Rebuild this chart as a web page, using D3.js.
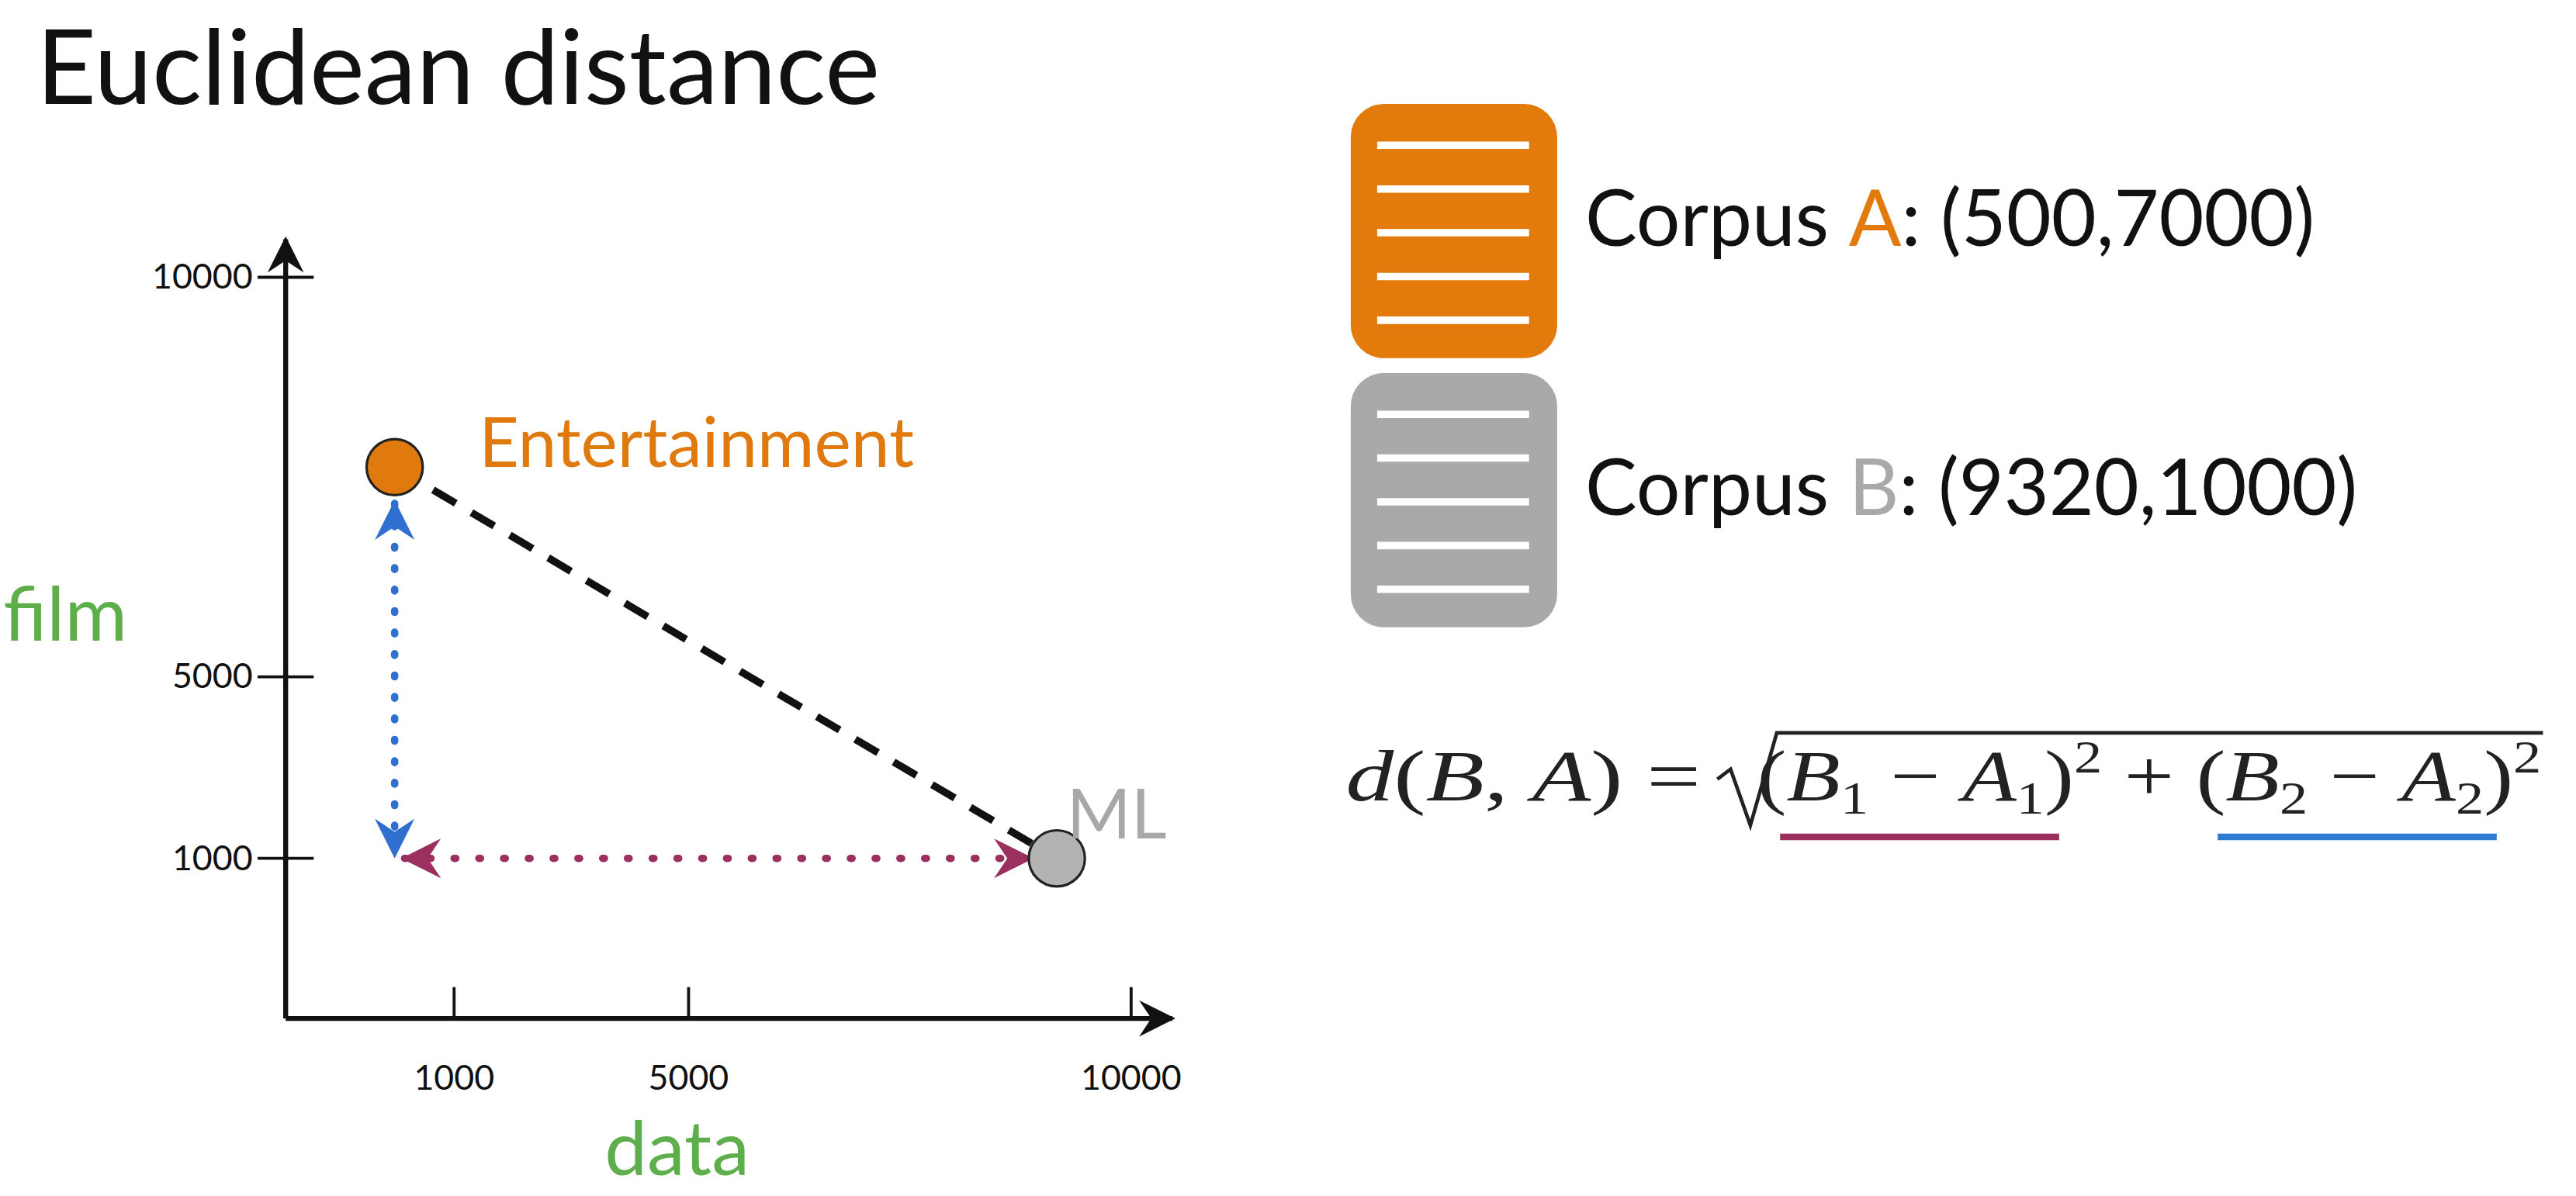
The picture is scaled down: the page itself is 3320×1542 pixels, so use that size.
<!DOCTYPE html>
<html lang="en">
<head>
<meta charset="UTF-8">
<title>Euclidean distance</title>
<script src="https://d3js.org/d3.v7.min.js"></script>
<style>
  body { margin: 0; background: #fff; font-family: Lato, sans-serif; }
</style>
</head>
<body>
<script>
// data
const xTicks = [1000, 5000, 10000];
const yTicks = [1000, 5000, 10000];
const points = [
  {name: "Entertainment", x: 500, y: 7000, color: "#e07a0f", labelColor: "#e07a0f"},
  {name: "ML", x: 9320, y: 1000, color: "#b3b3b3", labelColor: "#a8a8a8"}
];
const corpora = [
  {label: "A", coords: "(500,7000)", color: "#e37a0c"},
  {label: "B", coords: "(9320,1000)", color: "#a9a9a9"}
];

// the picture is drawn in a 1560 wide frame and scaled up
const k = 3320 / 1560;
const svg = d3.select("body").append("svg").attr("width", 3320).attr("height", 1542);
const g = svg.append("g").attr("transform", `scale(${k})`);

// schematic (non proportional) axes, as in the slide
const x = d3.scaleLinear().domain([0, 500, 1000, 5000, 9320, 10000]).range([173, 239, 275, 417, 640, 685]);
const y = d3.scaleLinear().domain([0, 1000, 5000, 7000, 10000]).range([617, 520, 410, 283, 168]);

g.append("text").attr("x", 22).attr("y", 63).attr("font-size", 63).attr("fill", "#111").text("Euclidean distance");

const defs = svg.append("defs");
function marker(id, color, s) {
  defs.append("marker").attr("id", id).attr("viewBox", "0 0 12 12").attr("refX", 11).attr("refY", 6)
    .attr("markerWidth", s).attr("markerHeight", s).attr("markerUnits", "userSpaceOnUse").attr("orient", "auto-start-reverse")
    .append("path").attr("d", "M0,0 L12,6 L0,12 L4,6 Z").attr("fill", color);
}
marker("ax", "#111", 22);
marker("bl", "#2f6fd0", 24);
marker("pu", "#9b2f5e", 24);

// axes
g.append("line").attr("x1", 173).attr("x2", 173).attr("y1", 617).attr("y2", 145)
  .attr("stroke", "#111").attr("stroke-width", 3).attr("marker-end", "url(#ax)");
g.append("line").attr("x1", 173).attr("x2", 710).attr("y1", 617).attr("y2", 617)
  .attr("stroke", "#111").attr("stroke-width", 3).attr("marker-end", "url(#ax)");

yTicks.forEach(t => {
  g.append("line").attr("x1", 156).attr("x2", 190).attr("y1", y(t)).attr("y2", y(t)).attr("stroke", "#111").attr("stroke-width", 1.8);
  g.append("text").attr("x", 153).attr("y", y(t) + 7).attr("text-anchor", "end").attr("font-size", 21).attr("fill", "#111").text(t);
});
xTicks.forEach(t => {
  g.append("line").attr("x1", x(t)).attr("x2", x(t)).attr("y1", 598).attr("y2", 617).attr("stroke", "#111").attr("stroke-width", 1.8);
  g.append("text").attr("x", x(t)).attr("y", 660).attr("text-anchor", "middle").attr("font-size", 21).attr("fill", "#111").text(t);
});

g.append("text").attr("x", 2).attr("y", 388).attr("font-size", 46).attr("fill", "#5fae4c").text("film");
g.append("text").attr("x", 410).attr("y", 712).attr("text-anchor", "middle").attr("font-size", 46).attr("fill", "#5fae4c").text("data");

const A = points[0], B = points[1];
// distance components
g.append("line").attr("x1", x(A.x)).attr("x2", x(A.x)).attr("y1", y(A.y) + 22).attr("y2", y(B.y) - 2)
  .attr("stroke", "#2f6fd0").attr("stroke-width", 4.5).attr("stroke-dasharray", "1 12").attr("stroke-linecap", "round")
  .attr("marker-start", "url(#bl)").attr("marker-end", "url(#bl)");
g.append("line").attr("x1", x(A.x) + 6).attr("x2", x(B.x) - 16).attr("y1", y(B.y)).attr("y2", y(B.y))
  .attr("stroke", "#9b2f5e").attr("stroke-width", 4.5).attr("stroke-dasharray", "1 14").attr("stroke-linecap", "round")
  .attr("marker-start", "url(#pu)").attr("marker-end", "url(#pu)");
g.append("line").attr("x1", x(A.x)).attr("x2", x(B.x)).attr("y1", y(A.y)).attr("y2", y(B.y))
  .attr("stroke", "#111").attr("stroke-width", 4.5).attr("stroke-dasharray", "16 11");

g.selectAll(".pt").data(points).enter().append("circle")
  .attr("cx", d => x(d.x)).attr("cy", d => y(d.y)).attr("r", 17)
  .attr("fill", d => d.color).attr("stroke", "#222").attr("stroke-width", 1.5);
g.append("text").attr("x", 290).attr("y", 283).attr("font-size", 42).attr("fill", A.labelColor).text(A.name);
g.append("text").attr("x", 646).attr("y", 508).attr("font-size", 42).attr("fill", B.labelColor).text(B.name);

// corpus documents
corpora.forEach((c, i) => {
  const top = 63 + i * 163;
  g.append("rect").attr("x", 818).attr("y", top).attr("width", 125).attr("height", 154).attr("rx", 20).attr("fill", c.color);
  d3.range(5).forEach(j => {
    g.append("line").attr("x1", 834).attr("x2", 926).attr("y1", top + 25 + j * 26.5).attr("y2", top + 25 + j * 26.5)
      .attr("stroke", "#fff").attr("stroke-width", 4.5);
  });
  const t = g.append("text").attr("x", 960).attr("y", top + 86).attr("font-size", 47).attr("fill", "#111");
  t.append("tspan").text("Corpus ");
  t.append("tspan").attr("fill", c.color).text(c.label);
  t.append("tspan").text(": " + c.coords);
});

// formula
const serif = "'Liberation Serif', 'DejaVu Serif', serif";
const f1 = g.append("text").attr("x", 815).attr("y", 485).attr("font-size", 44).attr("fill", "#222").attr("font-family", serif)
  .attr("textLength", 215).attr("lengthAdjust", "spacingAndGlyphs");
f1.append("tspan").attr("font-style", "italic").text("d");
f1.append("tspan").text("(");
f1.append("tspan").attr("font-style", "italic").text("B");
f1.append("tspan").text(", ");
f1.append("tspan").attr("font-style", "italic").text("A");
f1.append("tspan").text(") = ");

g.append("path").attr("d", "M1040,472 L1048,466 L1060,500 L1076,444 L1540,444")
  .attr("fill", "none").attr("stroke", "#222").attr("stroke-width", 2.2).attr("stroke-linejoin", "miter");

const f = g.append("text").attr("x", 1064).attr("y", 485).attr("font-size", 44).attr("fill", "#222").attr("font-family", serif);
function part(n) {
  f.append("tspan").text("(");
  f.append("tspan").attr("font-style", "italic").text("B");
  f.append("tspan").attr("font-size", 28).attr("dy", 8).text(n);
  f.append("tspan").attr("dy", -8).text(" − ");
  f.append("tspan").attr("font-style", "italic").text("A");
  f.append("tspan").attr("font-size", 28).attr("dy", 8).text(n);
  f.append("tspan").attr("dy", -8).text(")");
  f.append("tspan").attr("font-size", 28).attr("dy", -17).text("2");
  f.append("tspan").attr("dy", 17).text(n === "1" ? " + " : "");
}
part("1");
part("2");
f.attr("textLength", 475).attr("lengthAdjust", "spacingAndGlyphs");
g.append("line").attr("x1", 1078).attr("x2", 1247).attr("y1", 507).attr("y2", 507).attr("stroke", "#9b2f5e").attr("stroke-width", 4);
g.append("line").attr("x1", 1343).attr("x2", 1512).attr("y1", 507).attr("y2", 507).attr("stroke", "#2f7bd0").attr("stroke-width", 4);
</script>
</body>
</html>
